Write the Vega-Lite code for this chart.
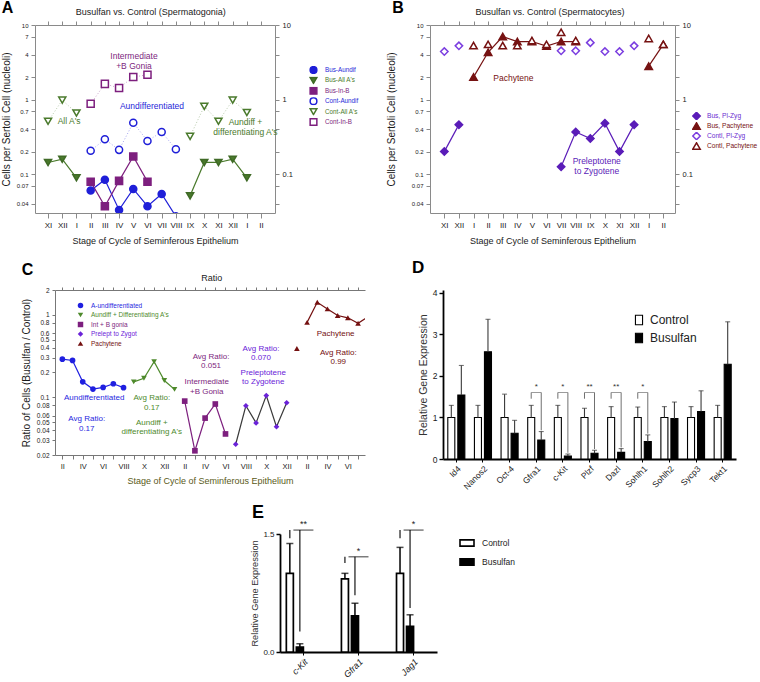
{
  "$schema": "https://vega.github.io/schema/vega-lite/v6.json",
  "padding": {"left": 0, "top": 0, "right": 0, "bottom": 0},
  "spacing": 13,
  "datasets": {
    "A": [
      {"s": "Bus-Aundif", "g": "Bus", "seg": "ba", "i": 3, "v": 0.060},
      {"s": "Bus-Aundif", "g": "Bus", "seg": "ba", "i": 4, "v": 0.084},
      {"s": "Bus-Aundif", "g": "Bus", "seg": "ba", "i": 5, "v": 0.033},
      {"s": "Bus-Aundif", "g": "Bus", "seg": "ba", "i": 6, "v": 0.063},
      {"s": "Bus-Aundif", "g": "Bus", "seg": "ba", "i": 7, "v": 0.037},
      {"s": "Bus-Aundif", "g": "Bus", "seg": "ba", "i": 8, "v": 0.054},
      {"s": "Bus-Aundif", "g": "Bus", "seg": "ba", "i": 9, "v": 0.027},
      {"s": "Bus-All A's", "g": "Bus", "seg": "bb1", "i": 0, "v": 0.143},
      {"s": "Bus-All A's", "g": "Bus", "seg": "bb1", "i": 1, "v": 0.158},
      {"s": "Bus-All A's", "g": "Bus", "seg": "bb1", "i": 2, "v": 0.089},
      {"s": "Bus-All A's", "g": "Bus", "seg": "bb2", "i": 10, "v": 0.051},
      {"s": "Bus-All A's", "g": "Bus", "seg": "bb2", "i": 11, "v": 0.143},
      {"s": "Bus-All A's", "g": "Bus", "seg": "bb2", "i": 12, "v": 0.143},
      {"s": "Bus-All A's", "g": "Bus", "seg": "bb2", "i": 13, "v": 0.158},
      {"s": "Bus-All A's", "g": "Bus", "seg": "bb2", "i": 14, "v": 0.089},
      {"s": "Bus-In-B", "g": "Bus", "seg": "bc", "i": 3, "v": 0.079},
      {"s": "Bus-In-B", "g": "Bus", "seg": "bc", "i": 4, "v": 0.037},
      {"s": "Bus-In-B", "g": "Bus", "seg": "bc", "i": 5, "v": 0.081},
      {"s": "Bus-In-B", "g": "Bus", "seg": "bc", "i": 6, "v": 0.172},
      {"s": "Bus-In-B", "g": "Bus", "seg": "bc", "i": 7, "v": 0.079},
      {"s": "Cont-Aundif", "g": "Cont", "seg": "ca", "i": 3, "v": 0.205},
      {"s": "Cont-Aundif", "g": "Cont", "seg": "ca", "i": 4, "v": 0.293},
      {"s": "Cont-Aundif", "g": "Cont", "seg": "ca", "i": 5, "v": 0.211},
      {"s": "Cont-Aundif", "g": "Cont", "seg": "ca", "i": 6, "v": 0.489},
      {"s": "Cont-Aundif", "g": "Cont", "seg": "ca", "i": 7, "v": 0.278},
      {"s": "Cont-Aundif", "g": "Cont", "seg": "ca", "i": 8, "v": 0.367},
      {"s": "Cont-Aundif", "g": "Cont", "seg": "ca", "i": 9, "v": 0.215},
      {"s": "Cont-All A's", "g": "Cont", "seg": "cb1", "i": 0, "v": 0.51},
      {"s": "Cont-All A's", "g": "Cont", "seg": "cb1", "i": 1, "v": 0.98},
      {"s": "Cont-All A's", "g": "Cont", "seg": "cb1", "i": 2, "v": 0.66},
      {"s": "Cont-All A's", "g": "Cont", "seg": "cb2", "i": 10, "v": 0.32},
      {"s": "Cont-All A's", "g": "Cont", "seg": "cb2", "i": 11, "v": 0.81},
      {"s": "Cont-All A's", "g": "Cont", "seg": "cb2", "i": 12, "v": 0.51},
      {"s": "Cont-All A's", "g": "Cont", "seg": "cb2", "i": 13, "v": 0.98},
      {"s": "Cont-All A's", "g": "Cont", "seg": "cb2", "i": 14, "v": 0.67},
      {"s": "Cont-In-B", "g": "Cont", "seg": "cc", "i": 3, "v": 0.875},
      {"s": "Cont-In-B", "g": "Cont", "seg": "cc", "i": 4, "v": 1.62},
      {"s": "Cont-In-B", "g": "Cont", "seg": "cc", "i": 5, "v": 1.43},
      {"s": "Cont-In-B", "g": "Cont", "seg": "cc", "i": 6, "v": 2.0},
      {"s": "Cont-In-B", "g": "Cont", "seg": "cc", "i": 7, "v": 2.15}
    ],
    "Aann": [
      {"s": "Cont-In-B", "i": 6.05, "v": 3.78, "t": "Intermediate\n+B Gonia"},
      {"s": "Cont-Aundif", "i": 7.32, "v": 0.814, "t": "Aundifferentiated"},
      {"s": "Cont-All A's", "i": 1.48, "v": 0.51, "t": "All A's"},
      {"s": "Cont-All A's", "i": 13.9, "v": 0.498, "t": "Aundiff +\ndifferentiating A's"}
    ],
    "B": [
      {"s": "Bus, Pl-Zyg", "g": "Bus", "seg": "p1", "i": 0, "v": 0.2},
      {"s": "Bus, Pl-Zyg", "g": "Bus", "seg": "p1", "i": 1, "v": 0.46},
      {"s": "Bus, Pl-Zyg", "g": "Bus", "seg": "p2", "i": 8, "v": 0.125},
      {"s": "Bus, Pl-Zyg", "g": "Bus", "seg": "p2", "i": 9, "v": 0.367},
      {"s": "Bus, Pl-Zyg", "g": "Bus", "seg": "p2", "i": 10, "v": 0.30},
      {"s": "Bus, Pl-Zyg", "g": "Bus", "seg": "p2", "i": 11, "v": 0.48},
      {"s": "Bus, Pl-Zyg", "g": "Bus", "seg": "p2", "i": 12, "v": 0.2},
      {"s": "Bus, Pl-Zyg", "g": "Bus", "seg": "p2", "i": 13, "v": 0.46},
      {"s": "Bus, Pachytene", "g": "Bus", "seg": "q1", "i": 2, "v": 2.0},
      {"s": "Bus, Pachytene", "g": "Bus", "seg": "q1", "i": 3, "v": 4.3},
      {"s": "Bus, Pachytene", "g": "Bus", "seg": "q1", "i": 4, "v": 7.0},
      {"s": "Bus, Pachytene", "g": "Bus", "seg": "q1", "i": 5, "v": 6.0},
      {"s": "Bus, Pachytene", "g": "Bus", "seg": "q1", "i": 6, "v": 6.0},
      {"s": "Bus, Pachytene", "g": "Bus", "seg": "q1", "i": 7, "v": 5.2},
      {"s": "Bus, Pachytene", "g": "Bus", "seg": "q1", "i": 8, "v": 6.0},
      {"s": "Bus, Pachytene", "g": "Bus", "seg": "q1", "i": 9, "v": 6.0},
      {"s": "Bus, Pachytene", "g": "Bus", "seg": "q2", "i": 14, "v": 2.8},
      {"s": "Bus, Pachytene", "g": "Bus", "seg": "q2", "i": 15, "v": 5.5},
      {"s": "Contl, Pl-Zyg", "g": "Cont", "seg": "r", "i": 0, "v": 4.4},
      {"s": "Contl, Pl-Zyg", "g": "Cont", "seg": "r", "i": 1, "v": 5.25},
      {"s": "Contl, Pl-Zyg", "g": "Cont", "seg": "r", "i": 8, "v": 4.5},
      {"s": "Contl, Pl-Zyg", "g": "Cont", "seg": "r", "i": 9, "v": 4.5},
      {"s": "Contl, Pl-Zyg", "g": "Cont", "seg": "r", "i": 10, "v": 5.8},
      {"s": "Contl, Pl-Zyg", "g": "Cont", "seg": "r", "i": 11, "v": 4.4},
      {"s": "Contl, Pl-Zyg", "g": "Cont", "seg": "r", "i": 12, "v": 4.4},
      {"s": "Contl, Pl-Zyg", "g": "Cont", "seg": "r", "i": 13, "v": 5.25},
      {"s": "Contl, Pachytene", "g": "Cont", "seg": "t", "i": 2, "v": 5.3},
      {"s": "Contl, Pachytene", "g": "Cont", "seg": "t", "i": 3, "v": 5.5},
      {"s": "Contl, Pachytene", "g": "Cont", "seg": "t", "i": 4, "v": 5.3},
      {"s": "Contl, Pachytene", "g": "Cont", "seg": "t", "i": 5, "v": 5.3},
      {"s": "Contl, Pachytene", "g": "Cont", "seg": "t", "i": 6, "v": 6.2},
      {"s": "Contl, Pachytene", "g": "Cont", "seg": "t", "i": 7, "v": 5.5},
      {"s": "Contl, Pachytene", "g": "Cont", "seg": "t", "i": 8, "v": 8.0},
      {"s": "Contl, Pachytene", "g": "Cont", "seg": "t", "i": 9, "v": 6.2},
      {"s": "Contl, Pachytene", "g": "Cont", "seg": "t", "i": 14, "v": 6.6},
      {"s": "Contl, Pachytene", "g": "Cont", "seg": "t", "i": 15, "v": 5.5}
    ],
    "Bann": [
      {"s": "Bus, Pachytene", "i": 4.73, "v": 1.95, "t": "Pachytene"},
      {"s": "Bus, Pl-Zyg", "i": 10.44, "v": 0.15, "t": "Preleptotene\nto Zygotene"}
    ],
    "C": [
      {"s": "A-undifferentiated", "seg": "c1", "j": 0, "v": 0.29},
      {"s": "A-undifferentiated", "seg": "c1", "j": 1, "v": 0.28},
      {"s": "A-undifferentiated", "seg": "c1", "j": 2, "v": 0.154},
      {"s": "A-undifferentiated", "seg": "c1", "j": 3, "v": 0.126},
      {"s": "A-undifferentiated", "seg": "c1", "j": 4, "v": 0.132},
      {"s": "A-undifferentiated", "seg": "c1", "j": 5, "v": 0.146},
      {"s": "A-undifferentiated", "seg": "c1", "j": 6, "v": 0.131},
      {"s": "Aundiff + Differentiating A's", "seg": "c2", "j": 7, "v": 0.154},
      {"s": "Aundiff + Differentiating A's", "seg": "c2", "j": 8, "v": 0.17},
      {"s": "Aundiff + Differentiating A's", "seg": "c2", "j": 9, "v": 0.27},
      {"s": "Aundiff + Differentiating A's", "seg": "c2", "j": 10, "v": 0.16},
      {"s": "Aundiff + Differentiating A's", "seg": "c2", "j": 11, "v": 0.125},
      {"s": "Int + B gonia", "seg": "c3", "j": 12, "v": 0.09},
      {"s": "Int + B gonia", "seg": "c3", "j": 13, "v": 0.0225},
      {"s": "Int + B gonia", "seg": "c3", "j": 14, "v": 0.056},
      {"s": "Int + B gonia", "seg": "c3", "j": 15, "v": 0.083},
      {"s": "Int + B gonia", "seg": "c3", "j": 16, "v": 0.036},
      {"s": "Prelept to Zygot", "seg": "c4", "j": 17, "v": 0.027},
      {"s": "Prelept to Zygot", "seg": "c4", "j": 18, "v": 0.079},
      {"s": "Prelept to Zygot", "seg": "c4", "j": 19, "v": 0.049},
      {"s": "Prelept to Zygot", "seg": "c4", "j": 20, "v": 0.105},
      {"s": "Prelept to Zygot", "seg": "c4", "j": 21, "v": 0.044},
      {"s": "Prelept to Zygot", "seg": "c4", "j": 22, "v": 0.086},
      {"s": "Pachytene", "seg": "c5", "j": 23, "v": 0.39},
      {"s": "Pachytene", "seg": "c6", "j": 24, "v": 0.81},
      {"s": "Pachytene", "seg": "c6", "j": 25, "v": 1.42},
      {"s": "Pachytene", "seg": "c6", "j": 26, "v": 1.18},
      {"s": "Pachytene", "seg": "c6", "j": 27, "v": 0.98},
      {"s": "Pachytene", "seg": "c6", "j": 28, "v": 0.92},
      {"s": "Pachytene", "seg": "c6", "j": 29, "v": 0.79},
      {"s": "Pachytene", "seg": "c6", "j": 30, "v": 0.95}
    ],
    "Cann": [
      {"s": "A-undifferentiated", "j": 3.12, "v": 0.097, "t": "Aundifferentiated"},
      {"s": "A-undifferentiated", "j": 2.39, "v": 0.054, "t": "Avg Ratio:\n0.17"},
      {"s": "Aundiff + Differentiating A's", "j": 8.77, "v": 0.097, "t": "Avg Ratio:\n0.17"},
      {"s": "Aundiff + Differentiating A's", "j": 8.77, "v": 0.049, "t": "Aundiff +\ndifferentiating A's"},
      {"s": "Int + B gonia", "j": 14.58, "v": 0.31, "t": "Avg Ratio:\n0.051"},
      {"s": "Int + B gonia", "j": 14.16, "v": 0.152, "t": "Intermediate\n+B Gonia"},
      {"s": "Prelept to Zygot", "j": 19.48, "v": 0.387, "t": "Avg Ratio:\n0.070"},
      {"s": "Prelept to Zygot", "j": 19.7, "v": 0.2, "t": "Preleptotene\nto Zygotene"},
      {"s": "Pachytene", "j": 26.8, "v": 0.579, "t": "Pachytene"},
      {"s": "Pachytene", "j": 27.06, "v": 0.347, "t": "Avg Ratio:\n0.99"}
    ],
    "D": [
      {"gene": "Id4", "grp": "Control", "v": 1, "hi": 1.29},
      {"gene": "Id4", "grp": "Busulfan", "v": 1.54, "hi": 2.25},
      {"gene": "Nanos2", "grp": "Control", "v": 1, "hi": 1.29},
      {"gene": "Nanos2", "grp": "Busulfan", "v": 2.58, "hi": 3.36},
      {"gene": "Oct-4", "grp": "Control", "v": 1, "hi": 1.56},
      {"gene": "Oct-4", "grp": "Busulfan", "v": 0.62, "hi": 0.93},
      {"gene": "Gfra1", "grp": "Control", "v": 1, "hi": 1.29},
      {"gene": "Gfra1", "grp": "Busulfan", "v": 0.455, "hi": 0.66},
      {"gene": "c-Kit", "grp": "Control", "v": 1, "hi": 1.29},
      {"gene": "c-Kit", "grp": "Busulfan", "v": 0.07, "hi": 0.12},
      {"gene": "Plzf", "grp": "Control", "v": 1, "hi": 1.22},
      {"gene": "Plzf", "grp": "Busulfan", "v": 0.14, "hi": 0.21},
      {"gene": "Dazl", "grp": "Control", "v": 1, "hi": 1.26},
      {"gene": "Dazl", "grp": "Busulfan", "v": 0.16, "hi": 0.25},
      {"gene": "Sohlh1", "grp": "Control", "v": 1, "hi": 1.25},
      {"gene": "Sohlh1", "grp": "Busulfan", "v": 0.42, "hi": 0.58},
      {"gene": "Sohlh2", "grp": "Control", "v": 1, "hi": 1.26},
      {"gene": "Sohlh2", "grp": "Busulfan", "v": 0.97, "hi": 1.37},
      {"gene": "Sycp3", "grp": "Control", "v": 1, "hi": 1.26},
      {"gene": "Sycp3", "grp": "Busulfan", "v": 1.14, "hi": 1.64},
      {"gene": "Tekt1", "grp": "Control", "v": 1, "hi": 1.29},
      {"gene": "Tekt1", "grp": "Busulfan", "v": 2.28, "hi": 3.30}
    ],
    "Dsig": [
      {"gene": "Gfra1", "grp": "Control", "y1": 1.45, "y2": 1.6},
      {"gene": "Gfra1", "grp": "Busulfan", "y1": 0.69, "y2": 1.6},
      {"gene": "c-Kit", "grp": "Control", "y1": 1.45, "y2": 1.6},
      {"gene": "c-Kit", "grp": "Busulfan", "y1": 0.15, "y2": 1.6},
      {"gene": "Plzf", "grp": "Control", "y1": 1.45, "y2": 1.6},
      {"gene": "Plzf", "grp": "Busulfan", "y1": 0.24, "y2": 1.6},
      {"gene": "Dazl", "grp": "Control", "y1": 1.45, "y2": 1.6},
      {"gene": "Dazl", "grp": "Busulfan", "y1": 0.28, "y2": 1.6},
      {"gene": "Sohlh1", "grp": "Control", "y1": 1.45, "y2": 1.6},
      {"gene": "Sohlh1", "grp": "Busulfan", "y1": 0.61, "y2": 1.6}
    ],
    "Dstar": [
      {"gene": "Gfra1", "top": 1.6, "star": "*"},
      {"gene": "c-Kit", "top": 1.6, "star": "*"},
      {"gene": "Plzf", "top": 1.6, "star": "**"},
      {"gene": "Dazl", "top": 1.6, "star": "**"},
      {"gene": "Sohlh1", "top": 1.6, "star": "*"}
    ],
    "E": [
      {"gene": "c-Kit", "grp": "Control", "v": 1.0, "hi": 1.38},
      {"gene": "c-Kit", "grp": "Busulfan", "v": 0.063, "hi": 0.105},
      {"gene": "Gfra1", "grp": "Control", "v": 0.93, "hi": 1.0},
      {"gene": "Gfra1", "grp": "Busulfan", "v": 0.46, "hi": 0.62},
      {"gene": "Jag1", "grp": "Control", "v": 1.0, "hi": 1.33},
      {"gene": "Jag1", "grp": "Busulfan", "v": 0.326, "hi": 0.473}
    ],
    "Esig": [
      {"gene": "c-Kit", "grp": "Control", "y1": 1.445, "y2": 1.55},
      {"gene": "c-Kit", "grp": "Busulfan", "y1": 0.26, "y2": 1.55},
      {"gene": "Gfra1", "grp": "Control", "y1": 1.13, "y2": 1.21},
      {"gene": "Gfra1", "grp": "Busulfan", "y1": 0.72, "y2": 1.21},
      {"gene": "Jag1", "grp": "Control", "y1": 1.445, "y2": 1.55},
      {"gene": "Jag1", "grp": "Busulfan", "y1": 0.56, "y2": 1.55}
    ],
    "Estar": [
      {"gene": "c-Kit", "top": 1.55, "star": "**"},
      {"gene": "Gfra1", "top": 1.21, "star": "*"},
      {"gene": "Jag1", "top": 1.55, "star": "*"}
    ]
  },
  "vconcat": [
    {
      "bounds": "flush",
      "spacing": 0,
      "resolve": {"scale": {"color": "independent", "fill": "independent", "stroke": "independent", "shape": "independent"}, "legend": {"color": "independent", "fill": "independent", "stroke": "independent", "shape": "independent"}},
      "hconcat": [
        {"width": 35, "height": 10, "data": {"values": []}, "mark": "point"},
        {
          "width": 240,
          "height": 188,
          "layer": [
            {
              "data": {"name": "A"},
              "transform": [{"filter": "datum.g == 'Cont'"}],
              "mark": {"type": "line", "strokeDash": [1, 2], "strokeWidth": 1, "opacity": 0.4, "clip": true},
              "encoding": {
                "x": {"field": "i", "type": "quantitative", "scale": {"domain": [-0.92, 15.98], "nice": false, "zero": false},
                  "axis": {"values": [0,1,2,3,4,5,6,7,8,9,10,11,12,13,14,15], "labelExpr": "['XI','XII','I','II','III','IV','V','VI','VII','VIII','IX','X','XI','XII','I','II'][datum.value]", "labelFontSize": 8, "tickSize": 5, "labelPadding": 3, "domainColor": "#8a8a8a", "tickColor": "#8a8a8a", "title": "Stage of Cycle of Seminferous Epithelium", "titleFontSize": 9, "titlePadding": 7}},
                "y": {"field": "v", "type": "quantitative", "scale": {"type": "log", "domain": [0.03, 10], "nice": false},
                  "axis": {"values": [10,7,4,2,1,0.7,0.4,0.2,0.1,0.07,0.04], "format": "~g", "labelFontSize": 6, "tickSize": 4, "labelPadding": 3, "domainColor": "#8a8a8a", "tickColor": "#8a8a8a", "title": "Cells per Sertoli Cell (nucleoli)", "titleFontSize": 10, "titlePadding": 4.5}},
                "color": {"field": "s", "type": "nominal", "scale": {"domain": ["Cont-In-B", "Cont-All A's", "Cont-Aundif", "Bus-In-B", "Bus-All A's", "Bus-Aundif"], "range": ["#7d1f7e", "#4a7a2c", "#1f1fd8", "#7d1f7e", "#4a7a2c", "#1f1fd8"]}, "legend": null},
                "detail": {"field": "seg"}
              }
            },
            {
              "data": {"name": "A"},
              "transform": [{"filter": "datum.g == 'Bus'"}],
              "mark": {"type": "line", "strokeWidth": 1.2, "clip": true},
              "encoding": {
                "x": {"field": "i", "type": "quantitative", "axis": {"orient": "top", "values": [0,1,2,3,4,5,6,7,8,9,10,11,12,13,14,15], "labels": false, "tickSize": 4, "domainColor": "#8a8a8a", "tickColor": "#8a8a8a", "title": null}},
                "y": {"field": "v", "type": "quantitative", "axis": {"orient": "right", "values": [10,7,4,2,1,0.7,0.4,0.2,0.1,0.07,0.04], "format": "~g", "labelExpr": "datum.value == 10 || datum.value == 1 || datum.value == 0.1 ? datum.label : ''", "labelFontSize": 7.5, "tickSize": 4, "labelPadding": 3, "domainColor": "#8a8a8a", "tickColor": "#8a8a8a", "title": null}},
                "color": {"field": "s", "type": "nominal", "legend": null},
                "detail": {"field": "seg"}
              }
            },
            {
              "data": {"name": "A"},
              "mark": {"type": "point", "filled": true, "opacity": 1, "size": 50, "strokeWidth": 1.5, "clip": true},
              "encoding": {
                "x": {"field": "i", "type": "quantitative", "axis": null},
                "y": {"field": "v", "type": "quantitative", "axis": null},
                "shape": {"field": "s", "type": "nominal", "scale": {"domain": ["Bus-Aundif", "Bus-All A's", "Bus-In-B", "Cont-Aundif", "Cont-All A's", "Cont-In-B"], "range": ["circle", "triangle-down", "square", "circle", "triangle-down", "square"]},
                  "legend": {"title": null, "orient": "none", "legendX": 274, "legendY": 41, "labelFontSize": 6.3, "symbolSize": 45, "symbolStrokeWidth": 1.5, "clipHeight": 8, "rowPadding": 2.4, "labelOffset": 7, "labelColor": {"expr": "indexof(datum.value,'Aundif')>=0 ? '#1f1fd8' : indexof(datum.value,'All')>=0 ? '#4a7a2c' : '#7d1f7e'"}}},
                "stroke": {"field": "s", "type": "nominal", "scale": {"domain": ["Bus-Aundif", "Bus-All A's", "Bus-In-B", "Cont-Aundif", "Cont-All A's", "Cont-In-B"], "range": ["#1f1fd8", "#3f6a26", "#7d1f7e", "#1f1fd8", "#4a7a2c", "#7d1f7e"]},
                  "legend": {"title": null, "orient": "none", "legendX": 274, "legendY": 41, "labelFontSize": 6.3, "symbolSize": 45, "symbolStrokeWidth": 1.5, "clipHeight": 8, "rowPadding": 2.4, "labelOffset": 7, "labelColor": {"expr": "indexof(datum.value,'Aundif')>=0 ? '#1f1fd8' : indexof(datum.value,'All')>=0 ? '#4a7a2c' : '#7d1f7e'"}}},
                "fill": {"field": "s", "type": "nominal", "scale": {"domain": ["Bus-Aundif", "Bus-All A's", "Bus-In-B", "Cont-Aundif", "Cont-All A's", "Cont-In-B"], "range": ["#1f1fd8", "#4a7a2c", "#7d1f7e", "white", "white", "white"]},
                  "legend": {"title": null, "orient": "none", "legendX": 274, "legendY": 41, "labelFontSize": 6.3, "symbolSize": 45, "symbolStrokeWidth": 1.5, "clipHeight": 8, "rowPadding": 2.4, "labelOffset": 7, "labelColor": {"expr": "indexof(datum.value,'Aundif')>=0 ? '#1f1fd8' : indexof(datum.value,'All')>=0 ? '#4a7a2c' : '#7d1f7e'"}}}
              }
            },
            {
              "data": {"name": "Aann"},
              "mark": {"type": "text", "fontSize": 8.5, "lineBreak": "\n", "lineHeight": 10, "baseline": "middle"},
              "encoding": {
                "x": {"field": "i", "type": "quantitative", "axis": null},
                "y": {"field": "v", "type": "quantitative", "axis": null},
                "text": {"field": "t"},
                "color": {"field": "s", "type": "nominal", "legend": null}
              }
            },
            {
              "data": {"values": [{"t": "Busulfan vs. Control (Spermatogonia)", "i": 7.23, "v": 15.1}]},
              "mark": {"type": "text", "fontSize": 9, "baseline": "middle", "color": "#1a1a1a"},
              "encoding": {
                "x": {"field": "i", "type": "quantitative", "axis": null},
                "y": {"field": "v", "type": "quantitative", "axis": null},
                "text": {"field": "t"}
              }
            },
            {
              "data": {"values": [{"t": "A", "i": -2.85, "v": 16.85}]},
              "mark": {"type": "text", "fontSize": 16, "fontWeight": "bold", "baseline": "middle", "color": "black"},
              "encoding": {
                "x": {"field": "i", "type": "quantitative", "axis": null},
                "y": {"field": "v", "type": "quantitative", "axis": null},
                "text": {"field": "t"}
              }
            }
          ],
          "resolve": {"axis": {"x": "independent", "y": "independent"}}
        },
        {"width": 155, "height": 10, "data": {"values": []}, "mark": "point"},
        {
          "width": 245,
          "height": 188,
          "layer": [
            {
              "data": {"name": "B"},
              "transform": [{"filter": "datum.g == 'Bus'"}],
              "mark": {"type": "line", "strokeWidth": 1.2, "clip": true},
              "encoding": {
                "x": {"field": "i", "type": "quantitative", "scale": {"domain": [-0.98, 15.8], "nice": false, "zero": false},
                  "axis": {"values": [0,1,2,3,4,5,6,7,8,9,10,11,12,13,14,15], "labelExpr": "['XI','XII','I','II','III','IV','V','VI','VII','VIII','IX','X','XI','XII','I','II'][datum.value]", "labelFontSize": 8, "tickSize": 5, "labelPadding": 3, "domainColor": "#8a8a8a", "tickColor": "#8a8a8a", "title": "Stage of Cycle of Seminferous Epithelium", "titleFontSize": 9, "titlePadding": 7}},
                "y": {"field": "v", "type": "quantitative", "scale": {"type": "log", "domain": [0.03, 10], "nice": false},
                  "axis": {"values": [10,7,4,2,1,0.7,0.4,0.2,0.1,0.07,0.04], "format": "~g", "labelFontSize": 6, "tickSize": 4, "labelPadding": 3, "domainColor": "#8a8a8a", "tickColor": "#8a8a8a", "title": "Cells per Sertoli Cell (nucleoli)", "titleFontSize": 10, "titlePadding": 14.5}},
                "color": {"field": "s", "type": "nominal", "scale": {"domain": ["Contl, Pachytene", "Contl, Pl-Zyg", "Bus, Pachytene", "Bus, Pl-Zyg"], "range": ["#761212", "#7b3ee0", "#761212", "#5a1cb8"]}, "legend": null},
                "detail": {"field": "seg"}
              }
            },
            {
              "data": {"name": "B"},
              "mark": {"type": "point", "filled": true, "opacity": 1, "size": 55, "strokeWidth": 1.5, "clip": true},
              "encoding": {
                "x": {"field": "i", "type": "quantitative", "axis": {"orient": "top", "values": [0,1,2,3,4,5,6,7,8,9,10,11,12,13,14,15], "labels": false, "tickSize": 4, "domainColor": "#8a8a8a", "tickColor": "#8a8a8a", "title": null}},
                "y": {"field": "v", "type": "quantitative", "axis": {"orient": "right", "values": [10,7,4,2,1,0.7,0.4,0.2,0.1,0.07,0.04], "format": "~g", "labelExpr": "datum.value == 10 || datum.value == 1 || datum.value == 0.1 ? datum.label : ''", "labelFontSize": 7.5, "tickSize": 4, "labelPadding": 3, "domainColor": "#8a8a8a", "tickColor": "#8a8a8a", "title": null}},
                "shape": {"field": "s", "type": "nominal", "scale": {"domain": ["Bus, Pl-Zyg", "Bus, Pachytene", "Contl, Pl-Zyg", "Contl, Pachytene"], "range": ["diamond", "triangle-up", "diamond", "triangle-up"]},
                  "legend": {"title": null, "orient": "none", "legendX": 262, "legendY": 87, "labelFontSize": 6.6, "symbolSize": 55, "symbolStrokeWidth": 1.5, "clipHeight": 8, "rowPadding": 2, "labelOffset": 6, "labelColor": {"expr": "indexof(datum.value,'Pl-Zyg')>=0 ? '#6a2cd0' : '#761212'"}}},
                "stroke": {"field": "s", "type": "nominal", "scale": {"domain": ["Bus, Pl-Zyg", "Bus, Pachytene", "Contl, Pl-Zyg", "Contl, Pachytene"], "range": ["#5a1cb8", "#761212", "#7b3ee0", "#761212"]},
                  "legend": {"title": null, "orient": "none", "legendX": 262, "legendY": 87, "labelFontSize": 6.6, "symbolSize": 55, "symbolStrokeWidth": 1.5, "clipHeight": 8, "rowPadding": 2, "labelOffset": 6, "labelColor": {"expr": "indexof(datum.value,'Pl-Zyg')>=0 ? '#6a2cd0' : '#761212'"}}},
                "fill": {"field": "s", "type": "nominal", "scale": {"domain": ["Bus, Pl-Zyg", "Bus, Pachytene", "Contl, Pl-Zyg", "Contl, Pachytene"], "range": ["#5a1cb8", "#761212", "white", "white"]},
                  "legend": {"title": null, "orient": "none", "legendX": 262, "legendY": 87, "labelFontSize": 6.6, "symbolSize": 55, "symbolStrokeWidth": 1.5, "clipHeight": 8, "rowPadding": 2, "labelOffset": 6, "labelColor": {"expr": "indexof(datum.value,'Pl-Zyg')>=0 ? '#6a2cd0' : '#761212'"}}}
              }
            },
            {
              "data": {"name": "Bann"},
              "mark": {"type": "text", "fontSize": 8.5, "lineBreak": "\n", "lineHeight": 10, "baseline": "middle"},
              "encoding": {
                "x": {"field": "i", "type": "quantitative", "axis": null},
                "y": {"field": "v", "type": "quantitative", "axis": null},
                "text": {"field": "t"},
                "color": {"field": "s", "type": "nominal", "legend": null}
              }
            },
            {
              "data": {"values": [{"t": "Busulfan vs. Control (Spermatocytes)", "i": 7.24, "v": 15.1}]},
              "mark": {"type": "text", "fontSize": 9, "baseline": "middle", "color": "#1a1a1a"},
              "encoding": {
                "x": {"field": "i", "type": "quantitative", "axis": null},
                "y": {"field": "v", "type": "quantitative", "axis": null},
                "text": {"field": "t"}
              }
            },
            {
              "data": {"values": [{"t": "B", "i": -3.17, "v": 16.85}]},
              "mark": {"type": "text", "fontSize": 16, "fontWeight": "bold", "baseline": "middle", "color": "black"},
              "encoding": {
                "x": {"field": "i", "type": "quantitative", "axis": null},
                "y": {"field": "v", "type": "quantitative", "axis": null},
                "text": {"field": "t"}
              }
            }
          ],
          "resolve": {"axis": {"x": "independent", "y": "independent"}}
        }
      ]
    },
    {
      "bounds": "flush",
      "spacing": 0,
      "resolve": {"scale": {"color": "independent", "fill": "independent", "stroke": "independent", "shape": "independent"}, "legend": {"color": "independent", "fill": "independent", "stroke": "independent", "shape": "independent"}},
      "hconcat": [
        {"width": 55, "height": 10, "data": {"values": []}, "mark": "point"},
        {
          "width": 310,
          "height": 165,
          "layer": [
            {
              "data": {"name": "C"},
              "mark": {"type": "line", "strokeWidth": 1.2, "clip": true},
              "encoding": {
                "x": {"field": "j", "type": "quantitative", "scale": {"domain": [-0.72, 29.68], "nice": false, "zero": false},
                  "axis": {"values": [0,1,2,3,4,5,6,7,8,9,10,11,12,13,14,15,16,17,18,19,20,21,22,23,24,25,26,27,28,29], "labelExpr": "datum.value % 2 == 0 ? ['II','IV','VI','VIII','X','XII'][(datum.value / 2) % 6] : ''", "labelFontSize": 7.5, "tickSize": 4, "labelPadding": 3, "domainColor": "#777", "tickColor": "#777", "title": "Stage of Cycle of Seminferous Epithelium", "titleColor": "#5a5a18", "titleFontSize": 9, "titlePadding": 7}},
                "y": {"field": "v", "type": "quantitative", "scale": {"type": "log", "domain": [0.02, 2], "nice": false},
                  "axis": {"values": [2,1,0.8,0.6,0.5,0.4,0.3,0.2,0.1,0.08,0.06,0.05,0.04,0.03,0.02], "format": "~g", "labelFontSize": 6.5, "tickSize": 3, "labelPadding": 3, "domainColor": "#777", "tickColor": "#777", "title": "Ratio of Cells (Busulfan / Control)", "titleFontSize": 10, "titlePadding": 5}},
                "stroke": {"field": "s", "type": "nominal", "scale": {"domain": ["Pachytene", "Prelept to Zygot", "Int + B gonia", "Aundiff + Differentiating A's", "A-undifferentiated"], "range": ["#741010", "#3a3a3a", "#7d1f7e", "#4e8a2c", "#1f1fe0"]}, "legend": null},
                "detail": {"field": "seg"}
              }
            },
            {
              "data": {"name": "C"},
              "mark": {"type": "point", "filled": true, "opacity": 1, "size": 32, "clip": true},
              "encoding": {
                "x": {"field": "j", "type": "quantitative", "axis": {"orient": "top", "values": [0,1,2,3,4,5,6,7,8,9,10,11,12,13,14,15,16,17,18,19,20,21,22,23,24,25,26,27,28,29], "labels": false, "tickSize": 3, "domainColor": "#777", "tickColor": "#777", "title": null}},
                "y": {"field": "v", "type": "quantitative", "axis": null},
                "color": {"field": "s", "type": "nominal", "scale": {"domain": ["A-undifferentiated", "Aundiff + Differentiating A's", "Int + B gonia", "Prelept to Zygot", "Pachytene"], "range": ["#1f1fe0", "#4e8a2c", "#7d1f7e", "#6a22d8", "#741010"]},
                  "legend": {"title": null, "orient": "none", "legendX": 22, "legendY": 12, "labelFontSize": 6.5, "symbolSize": 30, "rowPadding": 2.5, "labelOffset": 7, "labelColor": {"expr": "indexof(datum.value,'Differentiating')>=0 ? '#4e8a2c' : indexof(datum.value,'gonia')>=0 ? '#7d1f7e' : indexof(datum.value,'Prelept')>=0 ? '#6a22d8' : indexof(datum.value,'Pachytene')>=0 ? '#741010' : '#1f1fe0'"}}},
                "shape": {"field": "s", "type": "nominal", "scale": {"domain": ["A-undifferentiated", "Aundiff + Differentiating A's", "Int + B gonia", "Prelept to Zygot", "Pachytene"], "range": ["circle", "triangle-down", "square", "diamond", "triangle-up"]},
                  "legend": {"title": null, "orient": "none", "legendX": 22, "legendY": 12, "labelFontSize": 6.5, "symbolSize": 30, "rowPadding": 2.5, "labelOffset": 7, "labelColor": {"expr": "indexof(datum.value,'Differentiating')>=0 ? '#4e8a2c' : indexof(datum.value,'gonia')>=0 ? '#7d1f7e' : indexof(datum.value,'Prelept')>=0 ? '#6a22d8' : indexof(datum.value,'Pachytene')>=0 ? '#741010' : '#1f1fe0'"}}}
              }
            },
            {
              "data": {"name": "Cann"},
              "mark": {"type": "text", "fontSize": 8, "lineBreak": "\n", "lineHeight": 9.5, "baseline": "middle"},
              "encoding": {
                "x": {"field": "j", "type": "quantitative", "axis": null},
                "y": {"field": "v", "type": "quantitative", "axis": null},
                "text": {"field": "t"},
                "fill": {"field": "s", "type": "nominal", "scale": {"domain": ["Prelept to Zygot", "Pachytene", "Int + B gonia", "A-undifferentiated", "Aundiff + Differentiating A's"], "range": ["#6a22d8", "#741010", "#7d1f7e", "#1f1fe0", "#4e8a2c"]}, "legend": null}
              }
            },
            {
              "data": {"values": [{"t": "Ratio", "j": 14.65, "v": 2.78}]},
              "mark": {"type": "text", "fontSize": 9, "baseline": "middle", "color": "#1a1a1a"},
              "encoding": {
                "x": {"field": "j", "type": "quantitative", "axis": null},
                "y": {"field": "v", "type": "quantitative", "axis": null},
                "text": {"field": "t"}
              }
            },
            {
              "data": {"values": [{"t": "C", "j": -3.41, "v": 3.51}]},
              "mark": {"type": "text", "fontSize": 16, "fontWeight": "bold", "baseline": "middle", "color": "black"},
              "encoding": {
                "x": {"field": "j", "type": "quantitative", "axis": null},
                "y": {"field": "v", "type": "quantitative", "axis": null},
                "text": {"field": "t"}
              }
            }
          ],
          "resolve": {"axis": {"x": "independent", "y": "independent"}}
        },
        {"width": 78, "height": 10, "data": {"values": []}, "mark": "point"},
        {
          "width": 293,
          "height": 169,
          "title": {"text": "D", "anchor": "start", "frame": "group", "dx": -31, "fontSize": 17, "fontWeight": "bold", "color": "black", "offset": 12},
          "layer": [
            {
              "data": {"name": "D"},
              "mark": {"type": "bar", "stroke": "black", "strokeWidth": 1.1},
              "encoding": {
                "x": {"field": "gene", "type": "nominal", "scale": {"domain": ["Id4", "Nanos2", "Oct-4", "Gfra1", "c-Kit", "Plzf", "Dazl", "Sohlh1", "Sohlh2", "Sycp3", "Tekt1"], "paddingInner": 0.36, "paddingOuter": 0.18},
                  "axis": {"title": null, "labelAngle": -45, "labelFontSize": 8.5, "tickSize": 3, "domainColor": "black", "domainWidth": 1.8, "tickColor": "black", "labelPadding": 2, "labelColor": "#222"}},
                "xOffset": {"field": "grp", "type": "nominal", "scale": {"domain": ["Control", "Busulfan"]}},
                "y": {"field": "v", "type": "quantitative", "scale": {"domain": [0, 4.065], "nice": false},
                  "axis": {"values": [0, 1, 2, 3, 4], "labelFontSize": 8.5, "tickSize": 4, "labelPadding": 2, "domainColor": "black", "domainWidth": 1.8, "tickColor": "black", "tickWidth": 1.4, "title": "Relative Gene Expression", "titleFontSize": 10.5, "titlePadding": 4, "titleColor": "#333"}},
                "fill": {"field": "grp", "type": "nominal", "scale": {"domain": ["Control", "Busulfan"], "range": ["white", "black"]},
                  "legend": {"title": null, "orient": "none", "legendX": 190, "legendY": 24, "labelFontSize": 12, "symbolType": "M-0.75,-1H0.75V1H-0.75Z", "symbolSize": 90, "symbolStrokeColor": "black", "symbolStrokeWidth": 1.1, "rowPadding": 4, "labelOffset": 5, "labelColor": "#222"}}
              }
            },
            {
              "data": {"name": "D"},
              "mark": {"type": "rule", "color": "#3a3a3a", "strokeWidth": 1.1},
              "encoding": {
                "x": {"field": "gene", "type": "nominal"},
                "xOffset": {"field": "grp", "type": "nominal"},
                "y": {"field": "v", "type": "quantitative"},
                "y2": {"field": "hi"}
              }
            },
            {
              "data": {"name": "D"},
              "mark": {"type": "tick", "color": "#3a3a3a", "thickness": 1.1, "size": 5},
              "encoding": {
                "x": {"field": "gene", "type": "nominal"},
                "xOffset": {"field": "grp", "type": "nominal"},
                "y": {"field": "hi", "type": "quantitative"}
              }
            },
            {
              "data": {"name": "Dsig"},
              "mark": {"type": "rule", "color": "#707070", "strokeWidth": 1},
              "encoding": {
                "x": {"field": "gene", "type": "nominal"},
                "xOffset": {"field": "grp", "type": "nominal"},
                "y": {"field": "y1", "type": "quantitative"},
                "y2": {"field": "y2"}
              }
            },
            {
              "data": {"name": "Dstar"},
              "mark": {"type": "tick", "color": "#707070", "thickness": 1, "size": 10},
              "encoding": {
                "x": {"field": "gene", "type": "nominal"},
                "y": {"field": "top", "type": "quantitative"}
              }
            },
            {
              "data": {"name": "Dstar"},
              "mark": {"type": "text", "baseline": "bottom", "dy": -1, "fontSize": 8, "color": "#333"},
              "encoding": {
                "x": {"field": "gene", "type": "nominal"},
                "y": {"field": "top", "type": "quantitative"},
                "text": {"field": "star"}
              }
            }
          ]
        }
      ]
    },
    {
      "bounds": "flush",
      "spacing": 0,
      "resolve": {"scale": {"color": "independent", "fill": "independent", "stroke": "independent", "shape": "independent"}, "legend": {"color": "independent", "fill": "independent", "stroke": "independent", "shape": "independent"}},
      "hconcat": [
        {"width": 280, "height": 10, "data": {"values": []}, "mark": "point"},
        {
          "width": 157,
          "height": 118,
          "title": {"text": "E", "anchor": "start", "frame": "group", "dx": -28, "fontSize": 18, "fontWeight": "bold", "color": "black", "offset": -2},
          "layer": [
            {
              "data": {"name": "E"},
              "mark": {"type": "bar", "stroke": "black", "strokeWidth": 1.7},
              "encoding": {
                "x": {"field": "gene", "type": "nominal", "scale": {"domain": ["c-Kit", "Gfra1", "Jag1"], "paddingInner": 0.38, "paddingOuter": 0.115},
                  "axis": {"title": null, "labelAngle": -45, "labelFontSize": 9, "labelFontStyle": "italic", "tickSize": 3, "domainColor": "black", "domainWidth": 1.8, "tickColor": "black", "labelPadding": 2, "labelColor": "#222"}},
                "xOffset": {"field": "grp", "type": "nominal", "scale": {"domain": ["Control", "Busulfan"], "paddingInner": 0.3}},
                "y": {"field": "v", "type": "quantitative", "scale": {"domain": [0, 1.5], "nice": false},
                  "axis": {"values": [0, 0.5, 1, 1.5], "format": ".1f", "labelFontSize": 8, "tickSize": 4, "labelPadding": 2, "domainColor": "black", "domainWidth": 1.8, "tickColor": "black", "tickWidth": 1.5, "title": "Relative Gene Expression", "titleFontSize": 9.2, "titlePadding": 3, "titleColor": "#333"}},
                "fill": {"field": "grp", "type": "nominal", "scale": {"domain": ["Control", "Busulfan"], "range": ["white", "black"]},
                  "legend": {"title": null, "orient": "none", "legendX": 179, "legendY": 1, "labelFontSize": 8.5, "symbolType": "M-1,-0.45H1V0.45H-1Z", "symbolSize": 196, "symbolStrokeColor": "black", "symbolStrokeWidth": 1.6, "rowPadding": 4, "labelOffset": 7, "labelColor": "#222"}}
              }
            },
            {
              "data": {"name": "E"},
              "mark": {"type": "rule", "color": "black", "strokeWidth": 1.5},
              "encoding": {
                "x": {"field": "gene", "type": "nominal"},
                "xOffset": {"field": "grp", "type": "nominal"},
                "y": {"field": "v", "type": "quantitative"},
                "y2": {"field": "hi"}
              }
            },
            {
              "data": {"name": "E"},
              "mark": {"type": "tick", "color": "black", "thickness": 1.5, "size": 7},
              "encoding": {
                "x": {"field": "gene", "type": "nominal"},
                "xOffset": {"field": "grp", "type": "nominal"},
                "y": {"field": "hi", "type": "quantitative"}
              }
            },
            {
              "data": {"name": "Esig"},
              "mark": {"type": "rule", "color": "black", "strokeWidth": 1.1},
              "encoding": {
                "x": {"field": "gene", "type": "nominal"},
                "xOffset": {"field": "grp", "type": "nominal"},
                "y": {"field": "y1", "type": "quantitative"},
                "y2": {"field": "y2"}
              }
            },
            {
              "data": {"name": "Estar"},
              "mark": {"type": "tick", "color": "black", "thickness": 1.1, "size": 20},
              "encoding": {
                "x": {"field": "gene", "type": "nominal"},
                "y": {"field": "top", "type": "quantitative"}
              }
            },
            {
              "data": {"name": "Estar"},
              "mark": {"type": "text", "baseline": "bottom", "dy": -1, "fontSize": 9, "color": "#222"},
              "encoding": {
                "x": {"field": "gene", "type": "nominal"},
                "y": {"field": "top", "type": "quantitative"},
                "text": {"field": "star"}
              }
            }
          ]
        }
      ]
    }
  ],
  "resolve": {"scale": {"color": "independent", "fill": "independent", "stroke": "independent", "shape": "independent"}, "legend": {"color": "independent", "fill": "independent", "stroke": "independent", "shape": "independent"}},
  "config": {
    "font": "Liberation Sans",
    "view": {"stroke": null},
    "axis": {"grid": false, "labelFlush": false, "labelOverlap": false, "titleFontWeight": "normal", "labelColor": "#1a1a1a", "titleColor": "#1a1a1a"},
    "title": {"fontWeight": "normal", "color": "#1a1a1a"},
    "legend": {"labelLimit": 300}
  }
}
